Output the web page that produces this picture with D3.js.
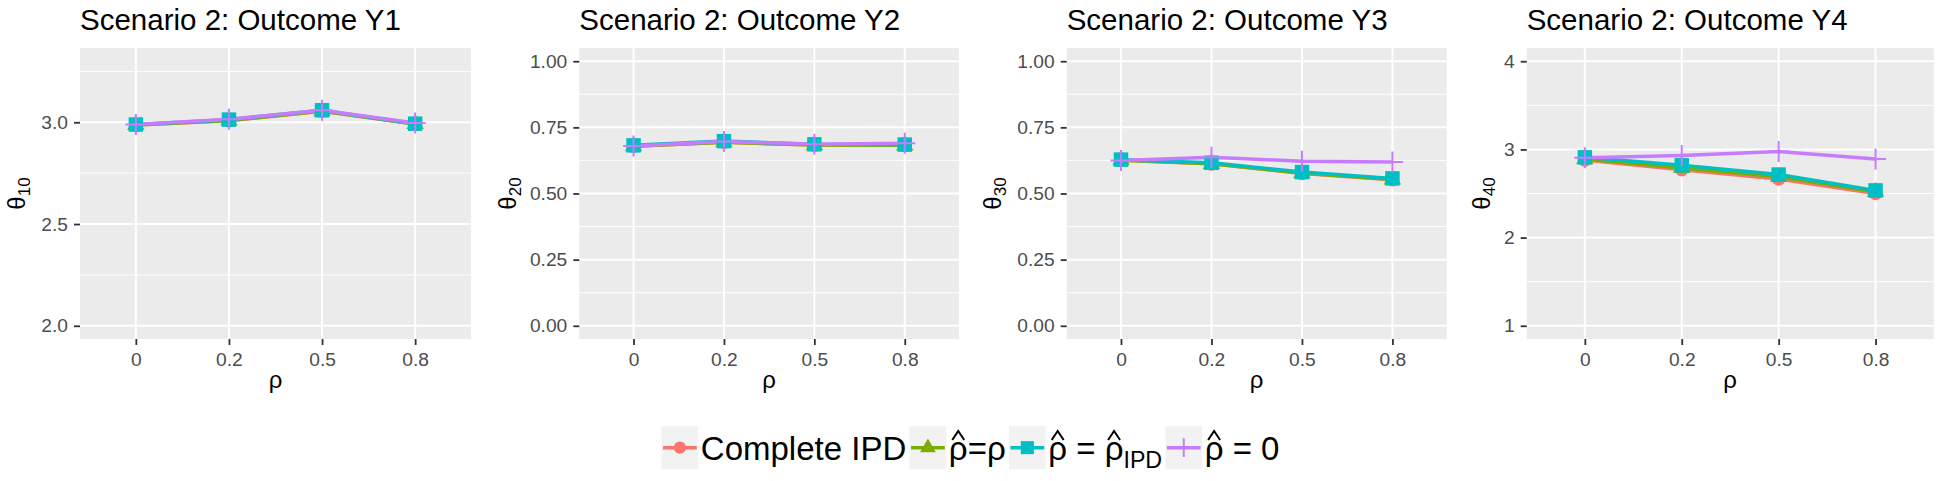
<!DOCTYPE html>
<html><head><meta charset="utf-8">
<script src="https://cdn.jsdelivr.net/npm/d3@7"></script>
<style>
body{margin:0;background:#fff}
svg{display:block}
text{font-family:"Liberation Sans", Arial, sans-serif; white-space:pre}
</style>
</head><body>
<svg id="chart" width="1941" height="481"></svg>
<script>
// ---------- data ----------
const rhoCats = ["0", "0.2", "0.5", "0.8"];
const methodColors = ["#F8766D", "#7CAE00", "#00BFC4", "#C77CFF"];
const methodShapes = ["circle", "triangle", "square", "cross"];

// Outcome Y1
const y1Complete = [2.986, 3.008, 3.054, 2.991];
const y1RhoTrue  = [2.987, 3.009, 3.055, 2.992];
const y1RhoIPD   = [2.989, 3.013, 3.059, 2.993];
const y1RhoZero  = [2.989, 3.015, 3.059, 2.996];
// Outcome Y2
const y2Complete = [0.679, 0.694, 0.683, 0.682];
const y2RhoTrue  = [0.679, 0.694, 0.683, 0.682];
const y2RhoIPD   = [0.682, 0.698, 0.686, 0.685];
const y2RhoZero  = [0.680, 0.697, 0.686, 0.690];
// Outcome Y3
const y3Complete = [0.626, 0.612, 0.576, 0.552];
const y3RhoTrue  = [0.626, 0.612, 0.577, 0.553];
const y3RhoIPD   = [0.628, 0.616, 0.581, 0.557];
const y3RhoZero  = [0.625, 0.637, 0.622, 0.619];
// Outcome Y4
const y4Complete = [2.88, 2.77, 2.665, 2.50];
const y4RhoTrue  = [2.89, 2.79, 2.69, 2.52];
const y4RhoIPD   = [2.91, 2.82, 2.715, 2.535];
const y4RhoZero  = [2.905, 2.93, 2.975, 2.89];

const panelTitles = ["Scenario 2: Outcome Y1", "Scenario 2: Outcome Y2", "Scenario 2: Outcome Y3", "Scenario 2: Outcome Y4"];
const yTitleSubs = ["10", "20", "30", "40"];
const yTicksY1 = [2.0, 2.5, 3.0];
const yTickLabelsY1 = ["2.0", "2.5", "3.0"];
const yTicksProb = [0, 0.25, 0.5, 0.75, 1.0];
const yTickLabelsProb = ["0.00", "0.25", "0.50", "0.75", "1.00"];
const yTicksY4 = [1, 2, 3, 4];
const yTickLabelsY4 = ["1", "2", "3", "4"];
const yLimitsY1 = [2.0, 3.3];
const yLimitsProb = [0, 1];
const yLimitsY4 = [1, 4];

// ---------- layout ----------
const svg = d3.select("#chart");
const TOP = 48, BOTTOM = 339;
const panels = [
  {left: 80,     right: 471,    ytx: 25,   series: [y1Complete, y1RhoTrue, y1RhoIPD, y1RhoZero], lim: yLimitsY1,   ticks: yTicksY1,   labels: yTickLabelsY1},
  {left: 579.3,  right: 959,    ytx: 516,  series: [y2Complete, y2RhoTrue, y2RhoIPD, y2RhoZero], lim: yLimitsProb, ticks: yTicksProb, labels: yTickLabelsProb},
  {left: 1066.7, right: 1446.7, ytx: 1001, series: [y3Complete, y3RhoTrue, y3RhoIPD, y3RhoZero], lim: yLimitsProb, ticks: yTicksProb, labels: yTickLabelsProb},
  {left: 1526.7, right: 1933.7, ytx: 1490, series: [y4Complete, y4RhoTrue, y4RhoIPD, y4RhoZero], lim: yLimitsY4,   ticks: yTicksY4,   labels: yTickLabelsY4}
];

const sizes = {circle: Math.PI * 6.8 * 6.8, triangle: 0.433 * 17.5 * 17.5, square: 14.5 * 14.5};
function shapePath(shape, scale) {
  const k = scale || 1;
  if (shape === "cross") {
    const h = 10.5 * k;
    return `M${-h},0H${h}M0,${-h}V${h}`;
  }
  const type = shape === "circle" ? d3.symbolCircle : shape === "triangle" ? d3.symbolTriangle : d3.symbolSquare;
  return d3.symbol().type(type).size(sizes[shape] * k * k)();
}
function drawShape(g, shape, color, x, y, scale) {
  const p = g.append("path").attr("d", shapePath(shape, scale)).attr("transform", `translate(${x},${y})`);
  if (shape === "cross") p.attr("fill", "none").attr("stroke", color).attr("stroke-width", 2);
  else p.attr("fill", color);
}

panels.forEach((P, i) => {
  const g = svg.append("g");
  const span = P.lim[1] - P.lim[0];
  const y = d3.scaleLinear().domain([P.lim[0] - 0.05 * span, P.lim[1] + 0.05 * span]).range([BOTTOM, TOP]);
  const x = d3.scalePoint().domain(rhoCats).range([P.left, P.right]).padding(0.6);

  g.append("rect").attr("x", P.left).attr("y", TOP).attr("width", P.right - P.left).attr("height", BOTTOM - TOP).attr("fill", "#EBEBEB");
  // minor grid
  const step = P.ticks[1] - P.ticks[0];
  const minor = d3.pairs(P.ticks).map(([a, b]) => (a + b) / 2);
  minor.push(P.ticks[P.ticks.length - 1] + step / 2);
  minor.push(P.ticks[0] - step / 2);
  minor.filter(v => y(v) >= TOP && y(v) <= BOTTOM).forEach(v => {
    g.append("line").attr("x1", P.left).attr("x2", P.right).attr("y1", y(v)).attr("y2", y(v)).attr("stroke", "#fff").attr("stroke-width", 1);
  });
  P.ticks.forEach(v => {
    g.append("line").attr("x1", P.left).attr("x2", P.right).attr("y1", y(v)).attr("y2", y(v)).attr("stroke", "#fff").attr("stroke-width", 2);
  });
  rhoCats.forEach(c => {
    g.append("line").attr("x1", x(c)).attr("x2", x(c)).attr("y1", TOP).attr("y2", BOTTOM).attr("stroke", "#fff").attr("stroke-width", 2);
  });

  // axes
  const yAxis = d3.axisLeft(y).tickValues(P.ticks).tickFormat((d, j) => P.labels[j]).tickSize(6).tickPadding(6);
  const ya = g.append("g").attr("transform", `translate(${P.left},0)`).call(yAxis);
  const xAxis = d3.axisBottom(x).tickSize(6).tickPadding(7);
  const xa = g.append("g").attr("transform", `translate(0,${BOTTOM})`).call(xAxis);
  [ya, xa].forEach(a => {
    a.select(".domain").remove();
    a.selectAll(".tick line").attr("stroke", "#333333").attr("stroke-width", 1.8);
    a.selectAll(".tick text").attr("fill", "#4D4D4D").style("font-size", "19.2px").style("font-family", '"Liberation Sans", Arial, sans-serif');
  });

  // lines then points
  const line = d3.line().x((d, j) => x(rhoCats[j])).y(d => y(d));
  P.series.forEach((s, m) => {
    g.append("path").datum(s).attr("d", line).attr("fill", "none").attr("stroke", methodColors[m]).attr("stroke-width", 3.5);
  });
  P.series.forEach((s, m) => {
    s.forEach((v, j) => drawShape(g, methodShapes[m], methodColors[m], x(rhoCats[j]), y(v)));
  });

  // titles
  g.append("text").attr("x", P.left).attr("y", 29.5).attr("font-size", 29.5).attr("fill", "#000").text(panelTitles[i]);
  g.append("text").attr("x", (P.left + P.right) / 2).attr("y", 388).attr("text-anchor", "middle").attr("font-size", 24).text("ρ");
  const yt = g.append("text").attr("transform", `translate(${P.ytx},${(TOP + BOTTOM) / 2}) rotate(-90)`).attr("text-anchor", "middle").attr("font-size", 24);
  yt.append("tspan").text("θ");
  yt.append("tspan").attr("font-size", 17).attr("dy", 5).text(yTitleSubs[i]);
});

// ---------- legend ----------
const legendLabels = [
  [{t: "Complete IPD"}],
  [{t: "ρ", hat: true}, {t: "=ρ"}],
  [{t: "ρ", hat: true}, {t: " = "}, {t: "ρ", hat: true}, {t: "IPD", sub: true}],
  [{t: "ρ", hat: true}, {t: " = 0"}]
];
const KEY_W = 36.7, KEY_TOP = 426, KEY_H = 43.3, BASE = 460, FS = 33;
const lg = svg.append("g");
let cx = 0;
legendLabels.forEach((segs, m) => {
  const item = lg.append("g");
  const kx = cx;
  item.append("rect").attr("x", kx).attr("y", KEY_TOP).attr("width", KEY_W).attr("height", KEY_H).attr("fill", "#F2F2F2");
  const ky = KEY_TOP + KEY_H / 2;
  item.append("line").attr("x1", kx + 1.5).attr("x2", kx + KEY_W - 1.5).attr("y1", ky).attr("y2", ky).attr("stroke", methodColors[m]).attr("stroke-width", 3.5);
  drawShape(item, methodShapes[m], methodColors[m], kx + KEY_W / 2, ky, 0.9);
  let tx = kx + KEY_W + 2.6;
  segs.forEach(s => {
    const t = item.append("text").attr("x", tx).attr("y", s.sub ? BASE + 8.3 : BASE).attr("font-size", s.sub ? 23.2 : FS).attr("fill", "#000").text(s.t);
    const w = t.node().getComputedTextLength();
    if (s.hat) {
      const hc = tx + w / 2;
      item.append("path").attr("d", `M${hc - 6},440L${hc},431L${hc + 6},440`).attr("fill", "none").attr("stroke", "#000").attr("stroke-width", 2);
    }
    tx += w;
  });
  cx = tx + 3.3;
});
const totalW = cx - 3.3;
lg.attr("transform", `translate(${970.5 - totalW / 2},0)`);
</script>
</body></html>
